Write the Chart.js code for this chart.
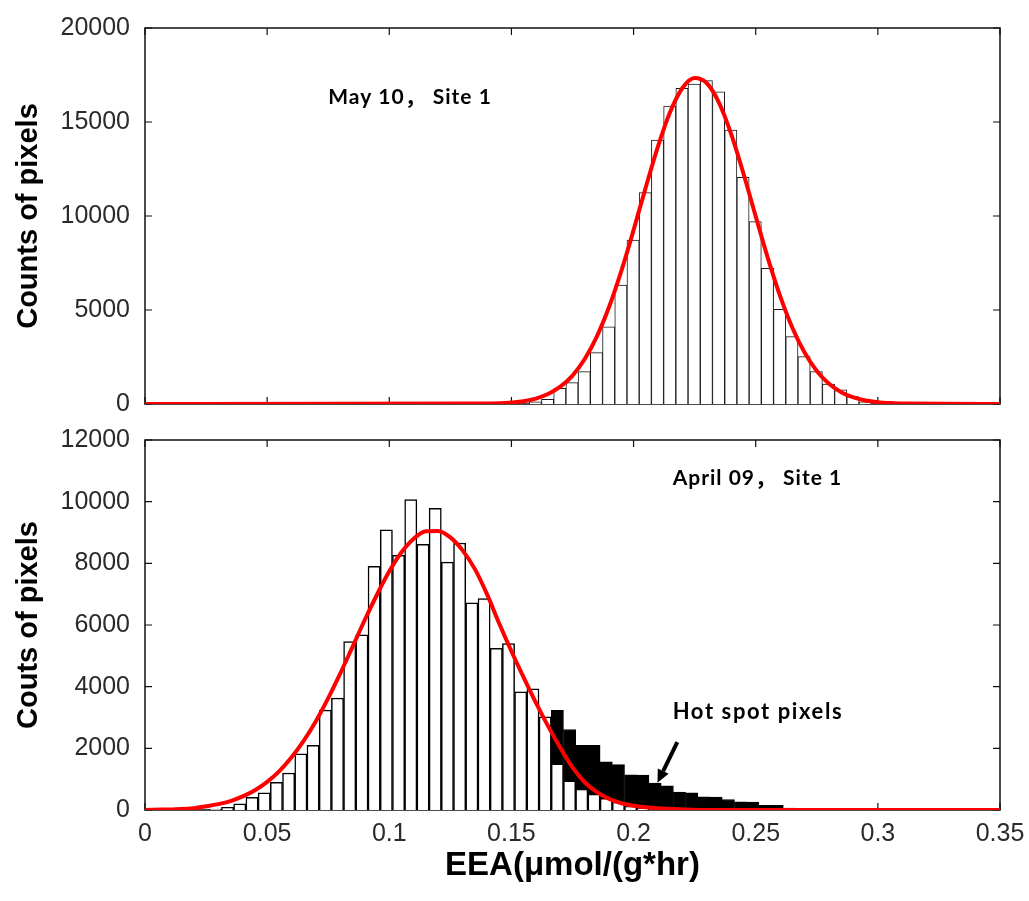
<!DOCTYPE html>
<html><head><meta charset="utf-8">
<script src="https://cdn.jsdelivr.net/npm/chart.js@4.4.1/dist/chart.umd.min.js"></script>
<style>
html,body{margin:0;padding:0;background:#fff;}
#wrap{position:relative;width:1029px;height:901px;background:#fff;}
canvas{position:absolute;left:0;}
#c1{top:0;}
#c2{top:420px;}
</style></head><body>
<div id="wrap"><canvas id="c1" width="1029" height="420"></canvas><canvas id="c2" width="1029" height="481"></canvas></div>
<script>
// ---------- data ----------
const xTickValues = [0, 0.05, 0.1, 0.15, 0.2, 0.25, 0.3, 0.35];
const xTickLabels = ['0', '0.05', '0.1', '0.15', '0.2', '0.25', '0.3', '0.35'];
const topYTickValues = [0, 5000, 10000, 15000, 20000];
const topYTickLabels = ['0', '5000', '10000', '15000', '20000'];
const bottomYTickValues = [0, 2000, 4000, 6000, 8000, 10000, 12000];
const bottomYTickLabels = ['0', '2000', '4000', '6000', '8000', '10000', '12000'];

// May 10, Site 1 histogram
const mayBinCenters = [0.1598, 0.1648, 0.1698, 0.1748, 0.1798, 0.1848, 0.1898, 0.1948, 0.1998, 0.2048,
  0.2098, 0.2148, 0.2198, 0.2248, 0.2298, 0.2348, 0.2398, 0.2448, 0.2498, 0.2548,
  0.2598, 0.2648, 0.2698, 0.2748, 0.2798, 0.2848, 0.2898, 0.2948];
const mayCounts = [120, 250, 830, 1140, 1720, 2730, 4110, 6330, 8720, 11240,
  14040, 15850, 16790, 17020, 17200, 16610, 14570, 12060, 9700, 7220,
  5040, 3580, 2520, 1720, 1060, 750, 390, 120];
// May 10 fitted curve
const mayFitX = [0, 0.14, 0.145, 0.15, 0.155, 0.16, 0.165, 0.17, 0.175, 0.18, 0.185, 0.19, 0.195, 0.2,
  0.205, 0.21, 0.215, 0.22, 0.225, 0.23, 0.235, 0.24, 0.245, 0.25, 0.255, 0.26, 0.265, 0.27,
  0.275, 0.28, 0.285, 0.29, 0.295, 0.3, 0.305, 0.31, 0.35];
const mayFitY = [0, 20, 40, 80, 150, 290, 530, 920, 1510, 2390, 3600, 5170, 7080, 9250,
  11530, 13700, 15540, 16810, 17340, 17060, 16020, 14340, 12250, 9980, 7750, 5740, 4060, 2740,
  1760, 1080, 630, 350, 190, 100, 50, 20, 0];

// April 09, Site 1 histogram
const aprilBinCenters = [0.0288, 0.0338, 0.0388, 0.0438, 0.0488, 0.0538, 0.0588, 0.0638, 0.0688, 0.0738,
  0.0788, 0.0838, 0.0888, 0.0938, 0.0988, 0.1038, 0.1088, 0.1138, 0.1188, 0.1238,
  0.1288, 0.1338, 0.1388, 0.1438, 0.1488, 0.1538, 0.1588, 0.1638, 0.1688, 0.1738,
  0.1788, 0.1838, 0.1888, 0.1938, 0.1988, 0.2038, 0.2088, 0.2138, 0.2188, 0.2238,
  0.2288, 0.2338, 0.2388, 0.2438, 0.2488, 0.2538, 0.2588, 0.2638];
// normal pixels (white bars)
const aprilNormalCounts = [30, 90, 200, 410, 560, 900, 1200, 1820, 2100, 3240,
  3630, 5460, 5680, 7900, 9090, 8260, 10070, 8620, 9780, 8040,
  8660, 6720, 6860, 5240, 5400, 3830, 3930, 3020, 1500, 950,
  680, 520, 375, 260, 130, 60, 30, null, null, null,
  null, null, null, null, null, null, null, null];
// all pixels including hot spots (black bars)
const aprilAllCounts = [null, null, null, null, null, null, null, null, null, null,
  null, null, null, null, null, null, null, null, null, null,
  null, null, null, null, null, null, null, null, 3230, 2610,
  2100, 2100, 1560, 1470, 1140, 1130, 870, 785, 584, 560,
  430, 420, 340, 265, 255, 155, 150, 60];
// April 09 fitted curve
const aprilFitX = [0, 0.02, 0.025, 0.03, 0.035, 0.04, 0.045, 0.05, 0.055, 0.06, 0.065, 0.07, 0.075, 0.08,
  0.085, 0.09, 0.095, 0.1, 0.105, 0.11, 0.115, 0.12, 0.125, 0.13, 0.135, 0.14, 0.145, 0.15,
  0.155, 0.16, 0.165, 0.17, 0.175, 0.18, 0.185, 0.19, 0.195, 0.2, 0.205, 0.21, 0.22, 0.23, 0.35];
const aprilFitY = [0, 60, 120, 190, 290, 440, 640, 910, 1260, 1710, 2250, 2890, 3630, 4440,
  5300, 6170, 6990, 7740, 8360, 8800, 9040, 9050, 8840, 8420, 7820, 7000, 6050, 5150,
  4300, 3480, 2720, 2020, 1380, 900, 580, 360, 220, 140, 90, 55, 20, 0, 0];

// ---------- helpers ----------
const pts = (xs, ys) => xs.map((x, i) => ({x: x, y: ys[i]})).filter(p => p.y !== null);
const tickFont = {family: "'Liberation Sans', Arial, sans-serif", size: 25};
const titleFont = {family: "'Liberation Sans', Arial, sans-serif", size: 29, weight: 'bold'};
const xTitleFont = {family: "'Liberation Sans', Arial, sans-serif", size: 33, weight: 'bold'};

const framePlugin = {
  id: 'frame',
  beforeDatasetsDraw(chart, args, opts) {
    const {ctx, chartArea: a} = chart;
    const x = chart.scales.x, y = chart.scales.y;
    ctx.save();
    ctx.strokeStyle = '#111';
    ctx.lineWidth = 1.5;
    ctx.strokeRect(a.left, a.top, a.right - a.left, a.bottom - a.top);
    ctx.lineWidth = 1.2;
    ctx.beginPath();
    for (const v of xTickValues) {
      const px = x.getPixelForValue(v);
      ctx.moveTo(px, a.bottom); ctx.lineTo(px, a.bottom - 7);
      ctx.moveTo(px, a.top); ctx.lineTo(px, a.top + 7);
    }
    for (const v of opts.yTicks) {
      const py = y.getPixelForValue(v);
      ctx.moveTo(a.left, py); ctx.lineTo(a.left + 7, py);
      ctx.moveTo(a.right, py); ctx.lineTo(a.right - 7, py);
    }
    ctx.stroke();
    ctx.restore();
  },
  afterDatasetsDraw(chart, args, opts) {
    const {ctx} = chart;
    const x = chart.scales.x, y = chart.scales.y;
    ctx.save();
    ctx.fillStyle = '#000';
    ctx.textBaseline = 'middle';
    ctx.textAlign = 'left';
    for (const n of opts.notes) {
      ctx.font = n.font;
      if ('letterSpacing' in ctx) ctx.letterSpacing = n.spacing;
      ctx.fillText(n.text, x.getPixelForValue(n.x), y.getPixelForValue(n.y));
    }
    if (opts.arrow) {
      const ar = opts.arrow;
      const x1 = x.getPixelForValue(ar.x1), y1 = y.getPixelForValue(ar.y1);
      const x2 = x.getPixelForValue(ar.x2), y2 = y.getPixelForValue(ar.y2);
      const ang = Math.atan2(y2 - y1, x2 - x1);
      const hl = 13, hw = 6;
      const bx = x2 - hl * Math.cos(ang), by = y2 - hl * Math.sin(ang);
      ctx.strokeStyle = '#000';
      ctx.lineWidth = 4;
      ctx.beginPath(); ctx.moveTo(x1, y1); ctx.lineTo(bx, by); ctx.stroke();
      ctx.beginPath();
      ctx.moveTo(x2, y2);
      ctx.lineTo(bx + hw * Math.sin(ang), by - hw * Math.cos(ang));
      ctx.lineTo(bx - hw * Math.sin(ang), by + hw * Math.cos(ang));
      ctx.closePath(); ctx.fill();
    }
    ctx.restore();
  }
};

function yScale(maxV, tickVals, tickLabels, title) {
  return {
    type: 'linear', min: 0, max: maxV,
    afterBuildTicks: s => { s.ticks = tickVals.map(v => ({value: v})); },
    ticks: {callback: (v, i) => tickLabels[i], font: tickFont, color: '#2a2a2a', padding: 15},
    grid: {display: false, drawTicks: false},
    border: {display: false},
    title: {display: true, text: title, font: titleFont, color: '#000', padding: {top: 12, bottom: 0}},
    afterFit: s => { s.width = 145; s.paddingTop = 0; s.paddingBottom = 0; }
  };
}

const common = {
  responsive: false, animation: false, events: [],
  devicePixelRatio: 1
};
const noteBold = (px) => 'bold ' + px + "px Lato, 'Noto Sans CJK SC', sans-serif";

// ---------- top chart ----------
new Chart(document.getElementById('c1'), {
  type: 'bar',
  data: {
    datasets: [
      {type: 'line', data: pts(mayFitX, mayFitY), borderColor: '#ff0000', borderWidth: 4,
       pointRadius: 0, cubicInterpolationMode: 'monotone', fill: false, order: 0},
      {type: 'bar', data: pts(mayBinCenters, mayCounts), backgroundColor: '#ffffff', borderColor: '#1a1a1a',
       borderWidth: 1, grouped: false, categoryPercentage: 1, barPercentage: 1, order: 1}
    ]
  },
  options: Object.assign({}, common, {
    layout: {padding: {top: 28, right: 29, bottom: 16, left: 0}},
    plugins: {legend: {display: false}, tooltip: {enabled: false},
      frame: {yTicks: topYTickValues,
        notes: [{text: 'May 10， Site 1', x: 0.075, y: 16300, font: noteBold(21), spacing: '1px'}]}},
    scales: {
      x: {type: 'linear', min: 0, max: 0.35, offset: false, display: false,
          grid: {display: false, offset: false}},
      y: yScale(20000, topYTickValues, topYTickLabels, 'Counts of pixels')
    }
  }),
  plugins: [framePlugin]
});

// ---------- bottom chart ----------
new Chart(document.getElementById('c2'), {
  type: 'bar',
  data: {
    datasets: [
      {type: 'line', data: pts(aprilFitX, aprilFitY), borderColor: '#ff0000', borderWidth: 4,
       pointRadius: 0, cubicInterpolationMode: 'monotone', fill: false, order: 0},
      {type: 'bar', data: pts(aprilBinCenters, aprilNormalCounts), backgroundColor: '#ffffff', borderColor: '#000000',
       borderWidth: 1.5, grouped: false, categoryPercentage: 1, barPercentage: 1, order: 1},
      {type: 'bar', data: pts(aprilBinCenters, aprilAllCounts), backgroundColor: '#000000', borderColor: '#000000',
       borderWidth: 1, grouped: false, categoryPercentage: 1, barPercentage: 1, order: 2}
    ]
  },
  options: Object.assign({}, common, {
    layout: {padding: {top: 20, right: 29, bottom: 0, left: 0}},
    plugins: {legend: {display: false}, tooltip: {enabled: false},
      frame: {yTicks: bottomYTickValues,
        notes: [{text: 'April 09， Site 1', x: 0.216, y: 10760, font: noteBold(21), spacing: '1px'},
                {text: 'Hot spot pixels', x: 0.216, y: 3170, font: noteBold(22), spacing: '1.6px'}],
        arrow: {x1: 0.2179, y1: 2205, x2: 0.2098, y2: 880}}},
    scales: {
      x: {type: 'linear', min: 0, max: 0.35, offset: false,
          afterBuildTicks: s => { s.ticks = xTickValues.map(v => ({value: v})); },
          ticks: {callback: (v, i) => xTickLabels[i], font: tickFont, color: '#2a2a2a', padding: 9,
                  maxRotation: 0, autoSkip: false},
          grid: {display: false, drawTicks: false, offset: false},
          border: {display: false},
          title: {display: true, text: 'EEA(μmol/(g*hr)', font: xTitleFont, color: '#000', padding: {top: 0, bottom: 15}},
          afterFit: s => { s.height = 91; s.paddingLeft = 0; s.paddingRight = 0; }},
      y: yScale(12000, bottomYTickValues, bottomYTickLabels, 'Couts of pixels')
    }
  }),
  plugins: [framePlugin]
});
</script>
</body></html>
